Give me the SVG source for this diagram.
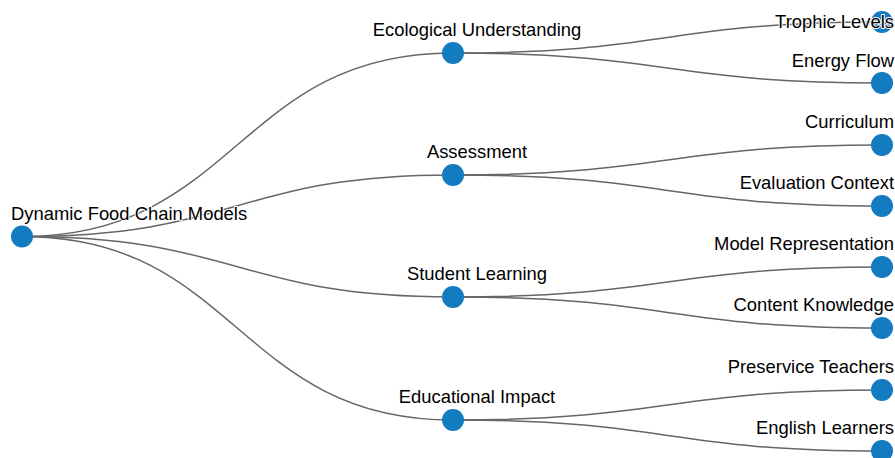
<svg xmlns="http://www.w3.org/2000/svg" width="895" height="458" viewBox="0 0 895 458">
  <style>
    .link { fill: none; stroke: #666; stroke-width: 1.5; }
    .node circle { fill: #137bbf; }
    .node text { font-family: "Liberation Sans", Arial, sans-serif; font-size: 18.4px; fill: #000;
                 stroke: #fff; stroke-width: 2; paint-order: stroke; stroke-linejoin: round; }
    .mid { text-anchor: middle; }
    .end { text-anchor: end; }
  </style>
  <rect width="895" height="458" fill="#fff"/>
  <g id="links">
    <path class="link" d="M22,236.5C237.5,236.5 237.5,53 453,53"/>
    <path class="link" d="M22,236.5C237.5,236.5 237.5,175 453,175"/>
    <path class="link" d="M22,236.5C237.5,236.5 237.5,297 453,297"/>
    <path class="link" d="M22,236.5C237.5,236.5 237.5,420 453,420"/>
    <path class="link" d="M453,53C667.5,53 667.5,22 882,22"/>
    <path class="link" d="M453,53C667.5,53 667.5,83 882,83"/>
    <path class="link" d="M453,175C667.5,175 667.5,145 882,145"/>
    <path class="link" d="M453,175C667.5,175 667.5,206 882,206"/>
    <path class="link" d="M453,297C667.5,297 667.5,267 882,267"/>
    <path class="link" d="M453,297C667.5,297 667.5,328 882,328"/>
    <path class="link" d="M453,420C667.5,420 667.5,390 882,390"/>
    <path class="link" d="M453,420C667.5,420 667.5,451 882,451"/>
  </g>
  <g id="root" class="node"><circle cx="22" cy="236.5" r="11"/><text x="11" y="220">Dynamic Food Chain Models</text></g>
  <g id="ecological" class="node"><circle cx="453" cy="53" r="11"/><text class="mid" x="477" y="36">Ecological Understanding</text></g>
  <g id="assessment" class="node"><circle cx="453" cy="175" r="11"/><text class="mid" x="477" y="158">Assessment</text></g>
  <g id="student" class="node"><circle cx="453" cy="297" r="11"/><text class="mid" x="477" y="280">Student Learning</text></g>
  <g id="impact" class="node"><circle cx="453" cy="420" r="11"/><text class="mid" x="477" y="403">Educational Impact</text></g>
  <g id="trophic" class="node"><circle cx="882" cy="22" r="11"/><text class="end" x="894" y="28">Trophic Levels</text></g>
  <g id="energy" class="node"><circle cx="882" cy="83" r="11"/><text class="end" x="894" y="67">Energy Flow</text></g>
  <g id="curriculum" class="node"><circle cx="882" cy="145" r="11"/><text class="end" x="894" y="128">Curriculum</text></g>
  <g id="evaluation" class="node"><circle cx="882" cy="206" r="11"/><text class="end" x="894" y="189">Evaluation Context</text></g>
  <g id="model" class="node"><circle cx="882" cy="267" r="11"/><text class="end" x="894" y="250">Model Representation</text></g>
  <g id="content" class="node"><circle cx="882" cy="328" r="11"/><text class="end" x="894" y="311">Content Knowledge</text></g>
  <g id="preservice" class="node"><circle cx="882" cy="390" r="11"/><text class="end" x="894" y="373">Preservice Teachers</text></g>
  <g id="english" class="node"><circle cx="882" cy="451" r="11"/><text class="end" x="894" y="434">English Learners</text></g>
</svg>
